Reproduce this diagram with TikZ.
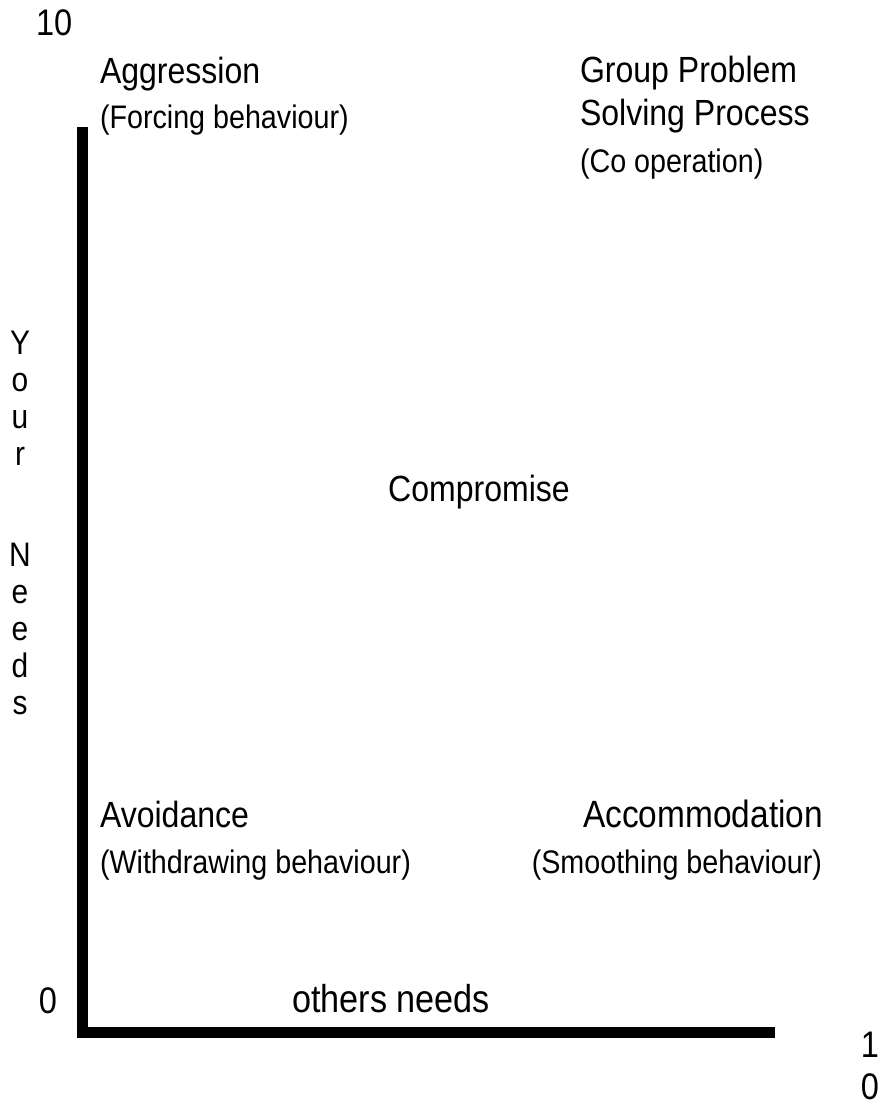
\documentclass[tikz,border=0pt]{standalone}
\usepackage{fontspec}
% tall, slightly condensed sans for all labels
\setmainfont{Liberation Sans}[FakeStretch=0.88]
\begin{document}
\begin{tikzpicture}[x=1pt,y=-1pt,
  every node/.style={inner sep=0pt,outer sep=0pt,text=black},
  mainlbl/.style={font=\fontsize{36.4}{43}\selectfont},
  sublbl/.style={font=\fontsize{32.6}{38}\selectfont},
  numlbl/.style={font=\fontsize{37}{42}\selectfont},
  axisline/.style={line width=11pt,line cap=butt,line join=miter}]
  \useasboundingbox (0,0) rectangle (892,1106);

  % axes
  \coordinate (ytop) at (82.5,127);
  \coordinate (origin) at (82.5,1032);
  \coordinate (xend) at (775,1032);
  \draw[axisline] (ytop) -- (origin) -- (xend);

  % scale marks (base of a multi-line node is its last line)
  \node[numlbl,anchor=base west] (ymax) at (36,35) {10};
  \node[numlbl,anchor=base east] (zero) at (57,1013) {0};
  \node[numlbl,anchor=base,align=center] (xmax) at (870,1099) {1\\0};

  % axis titles
  \node[anchor=north,align=center,font=\fontsize{34}{37}\selectfont] (ytitle) at (20,331)
    {Y\\o\\u\\r\\[64pt]N\\e\\e\\d\\s};
  \node[anchor=base west,font=\fontsize{38.9}{44}\selectfont] (xtitle) at (292,1012) {others needs};

  % quadrant labels
  \node[mainlbl,anchor=base west] (aggr) at (100,83) {Aggression};
  \node[sublbl,anchor=base west] (forcing) at (100,128) {(Forcing behaviour)};

  \node[mainlbl,anchor=base west] (group) at (580,82) {Group Problem};
  \node[mainlbl,anchor=base west] (solving) at (580,125) {Solving Process};
  \node[sublbl,anchor=base west] (coop) at (580,172) {(Co operation)};

  \node[mainlbl,anchor=base] (compromise) at (479,501) {Compromise};

  \node[mainlbl,anchor=base west] (avoid) at (100,827) {Avoidance};
  \node[sublbl,anchor=base west] (withdraw) at (100,873) {(Withdrawing behaviour)};

  \node[mainlbl,font=\fontsize{38}{43}\selectfont,anchor=base east] (accom) at (823,827) {Accommodation};
  \node[sublbl,anchor=base east] (smooth) at (822,873) {(Smoothing behaviour)};
\end{tikzpicture}
\end{document}
